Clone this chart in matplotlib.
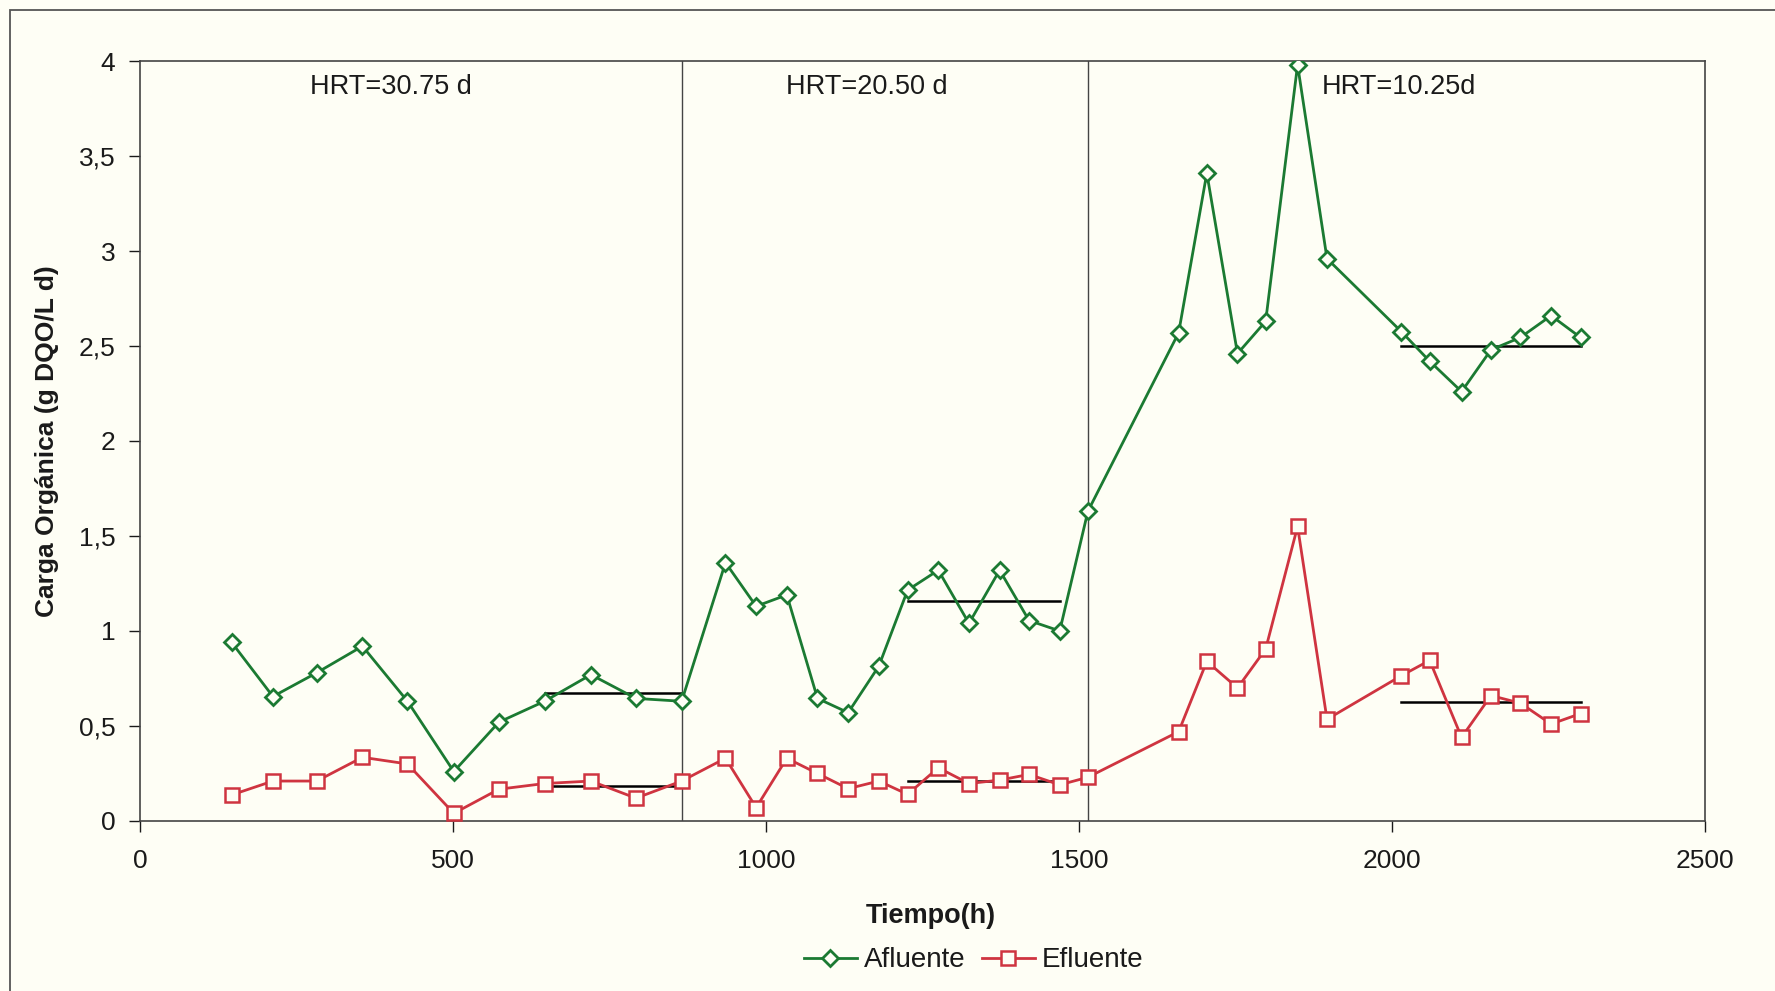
import matplotlib
matplotlib.use("Agg")
import matplotlib.pyplot as plt
from matplotlib.patches import Rectangle
from matplotlib.ticker import FuncFormatter

plt.rcParams['font.family'] = ['Liberation Sans', 'DejaVu Sans']

# ---- data ----
tiempo = [146, 212, 282, 355, 427, 501, 573, 646, 720, 792, 865,
          935, 984, 1033, 1082, 1131, 1180, 1226, 1275, 1324, 1373, 1420, 1469,
          1514, 1659, 1704, 1753, 1798, 1849, 1896, 2015, 2060, 2111, 2158, 2205, 2254, 2301]
afluente = [0.94, 0.655, 0.78, 0.92, 0.63, 0.26, 0.52, 0.63, 0.77, 0.645, 0.63,
            1.36, 1.13, 1.19, 0.645, 0.57, 0.815, 1.215, 1.32, 1.04, 1.32, 1.055, 1.00,
            1.63, 2.57, 3.41, 2.46, 2.63, 3.98, 2.96, 2.575, 2.42, 2.26, 2.48, 2.545, 2.66, 2.545]
efluente = [0.137, 0.21, 0.21, 0.335, 0.30, 0.04, 0.167, 0.197, 0.21, 0.12, 0.21,
            0.33, 0.07, 0.33, 0.25, 0.17, 0.21, 0.14, 0.28, 0.197, 0.215, 0.245, 0.19,
            0.23, 0.47, 0.84, 0.70, 0.905, 1.55, 0.535, 0.765, 0.845, 0.44, 0.66, 0.62, 0.51, 0.565]

# phase boundaries and averages
limites = [865, 1514]
media_x = [(646, 865), (1226, 1469), (2015, 2301)]
media_afl = [0.674, 1.16, 2.50]
media_efl = [0.185, 0.21, 0.625]
hrt_labels = ["HRT=30.75 d", "HRT=20.50 d", "HRT=10.25d"]
hrt_x = [400, 1161, 2011]

bg = '#fefef5'
green = '#1b7a32'
red = '#cf3440'
txt = '#1a1a1a'

fig = plt.figure(figsize=(17.75, 9.91), dpi=100, facecolor=bg)
ax = fig.add_axes([0.079, 0.1716, 0.8816, 0.7668], facecolor=bg)

# outer frame of the picture
fig.patches.append(Rectangle((10 / 1775, -0.05), 1.2, 1 - 10 / 991 + 0.05,
                             transform=fig.transFigure, fill=False,
                             edgecolor='#555555', linewidth=1.3))

for xv in limites:
    ax.axvline(xv, color='#444444', linewidth=1.0, zorder=1)

for (x0, x1), ya, ye in zip(media_x, media_afl, media_efl):
    ax.plot([x0, x1], [ya, ya], color='black', linewidth=1.8, zorder=2)
    ax.plot([x0, x1], [ye, ye], color='black', linewidth=1.8, zorder=2)

ax.plot(tiempo, afluente, color=green, linewidth=2.0, marker='D', markersize=8,
        markerfacecolor=bg, markeredgecolor=green, markeredgewidth=2.0,
        label='Afluente', zorder=3)
ax.plot(tiempo, efluente, color=red, linewidth=2.0, marker='s', markersize=10.5,
        markerfacecolor=bg, markeredgecolor=red, markeredgewidth=1.8,
        label='Efluente', zorder=3)

for lbl, xv in zip(hrt_labels, hrt_x):
    ax.text(xv, 3.865, lbl, ha='center', va='center', fontsize=19.5, color=txt)

ax.set_xlim(0, 2500)
ax.set_ylim(0, 4)
ax.set_xticks([0, 500, 1000, 1500, 2000, 2500])
ax.set_yticks([0, 0.5, 1, 1.5, 2, 2.5, 3, 3.5, 4])

def fmt(v, pos):
    s = ('%g' % v)
    return s.replace('.', ',')

ax.yaxis.set_major_formatter(FuncFormatter(fmt))
ax.tick_params(axis='both', labelsize=19, colors=txt, length=8, width=1.0,
               direction='out', pad=10)
ax.tick_params(axis='x', pad=12)
for sp in ax.spines.values():
    sp.set_color('#444444')
    sp.set_linewidth(1.2)

ax.set_xlabel('Tiempo(h)', fontsize=19.5, fontweight='bold', labelpad=20, color=txt)
ax.xaxis.set_label_coords(0.505, -0.108)
ax.set_ylabel('Carga Orgánica (g DQO/L d)', fontsize=19, fontweight='bold',
              labelpad=14, color=txt)

leg = fig.legend(loc='center', bbox_to_anchor=(0.5485, 0.031), ncol=2, frameon=False,
                 fontsize=20, handlelength=1.9, columnspacing=0.6, handletextpad=0.25)
for t in leg.get_texts():
    t.set_color(txt)

fig.savefig('out.png', dpi=100, facecolor=bg)
